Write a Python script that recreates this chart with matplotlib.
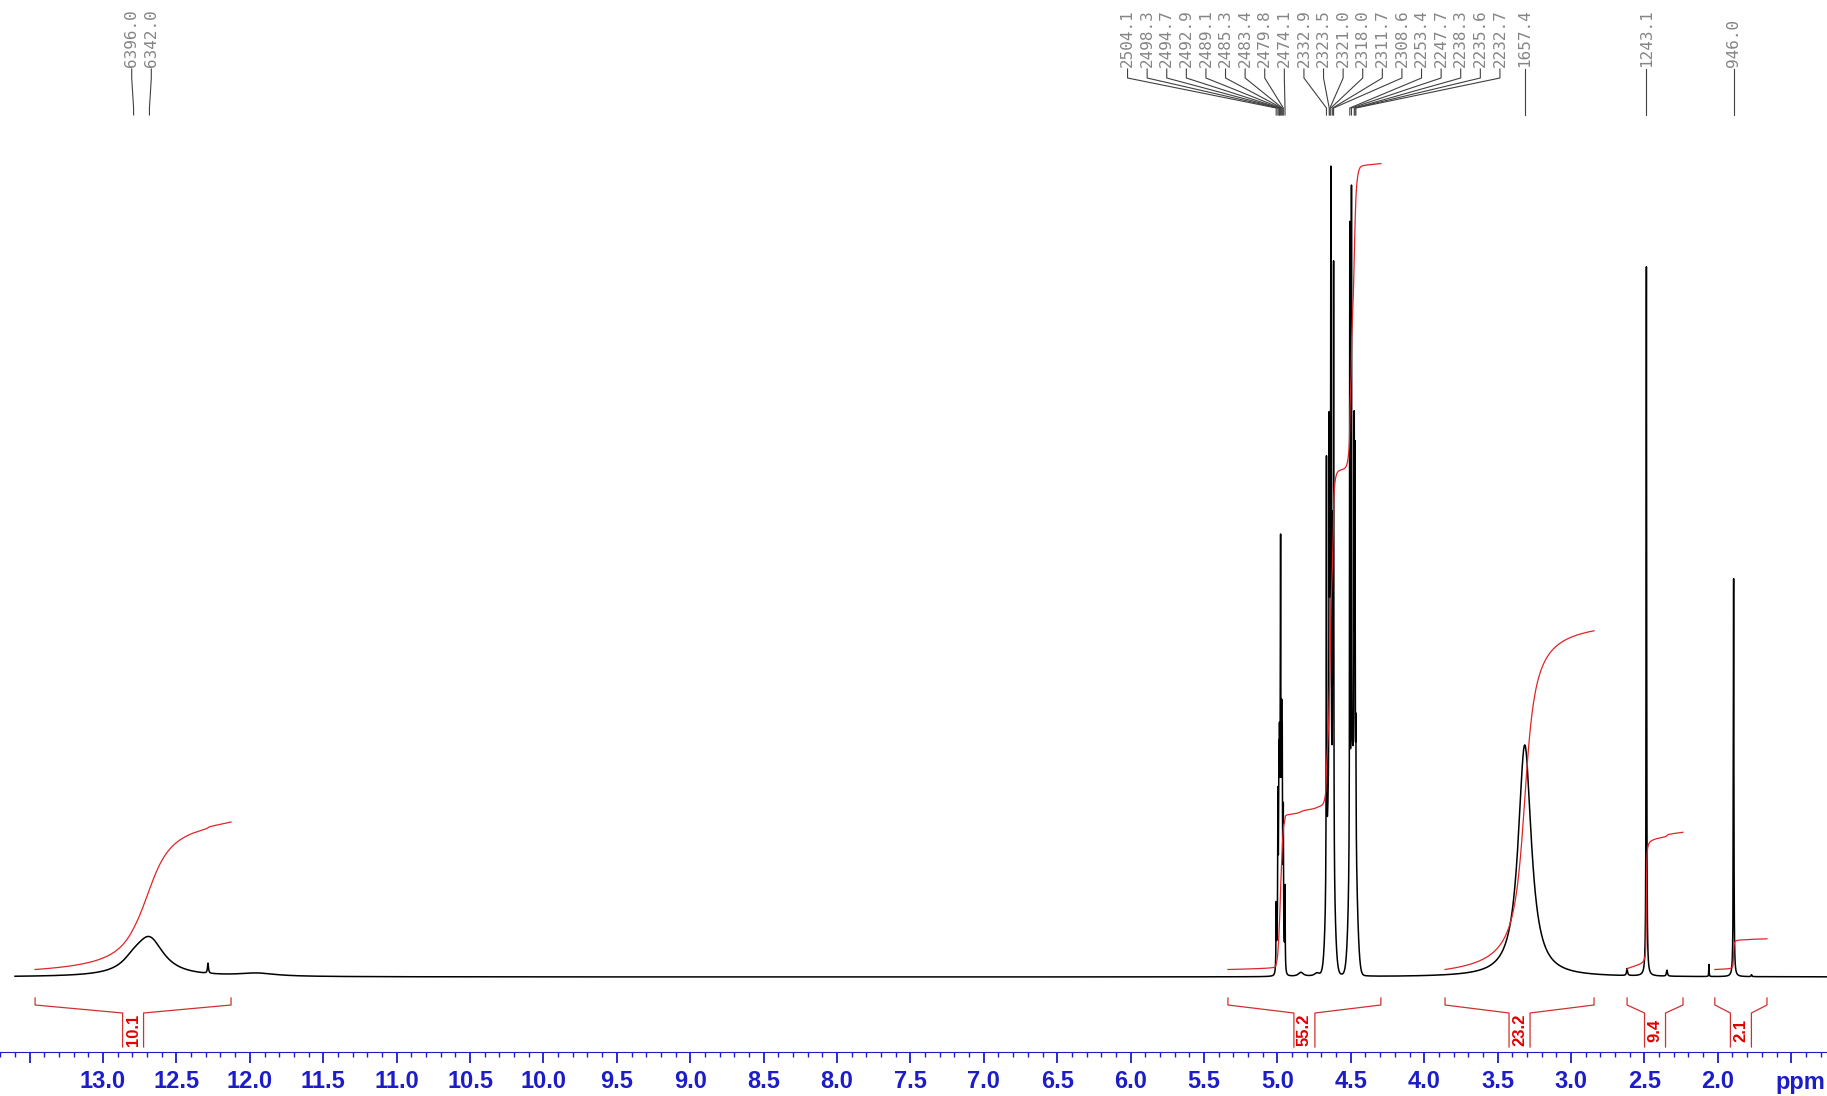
import numpy as np
import matplotlib
matplotlib.use('Agg')
import matplotlib.pyplot as plt
from matplotlib.ticker import MultipleLocator

SF = 500.0  # spectrometer frequency (MHz), peak labels are in Hz

# picked peaks shown on top (Hz)
label_hz = [6396.0, 6342.0,
            2504.1, 2498.3, 2494.7, 2492.9, 2489.1, 2485.3, 2483.4, 2479.8, 2474.1,
            2332.9, 2323.5, 2321.0, 2318.0, 2311.7, 2308.6,
            2253.4, 2247.7, 2238.3, 2235.6, 2232.7,
            1657.4, 1243.1, 946.0]

# lorentzian lines: position (Hz), height (px above baseline), fwhm (Hz)
line_hz = [6396.0, 6342.0, 6142.5, 5975.0,
           2504.1, 2498.3, 2494.7, 2492.9, 2489.1, 2485.3, 2483.4, 2479.8, 2474.1,
           2420.0, 2365.0,
           2332.9, 2323.5, 2321.0, 2318.0, 2311.7, 2308.6,
           2253.4, 2247.7, 2238.3, 2235.6, 2232.7,
           1657.4, 1309.0, 1243.1, 1173.0, 1030.0, 946.0, 885.0]
line_h = [8, 37, 10, 3,
          60, 123, 102, 94, 280, 124, 131, 116, 80,
          4, 3,
          425, 338, 270, 585, 279, 587,
          630, 601, 351, 344, 107,
          232, 7, 711, 6, 12, 398, 2]
line_w = [90, 120, 4, 150,
          1.5, 1.5, 1.5, 1.5, 1.5, 1.5, 1.5, 1.5, 1.5,
          20, 20,
          1.5, 1.5, 1.5, 1.5, 1.5, 1.5,
          1.5, 1.5, 1.5, 1.5, 1.5,
          54, 4, 2, 4, 1.5, 2, 3]

# unresolved multiplet envelopes (gaussian)
env_hz = [2489.5, 2320.0, 2242.5]
env_h = [150, 200, 200]
env_w = [15, 24, 24]

# integrals: range (ppm) and value
int_left = [13.463, 5.337, 3.858, 2.618, 2.02]
int_right = [12.128, 4.295, 2.843, 2.237, 1.665]
int_val = [10.1, 55.2, 23.2, 9.4, 2.1]

xl = (13.702, 1.256)
PXPPM = 146.8
BASE = 977  # baseline, px from top
H, W = 1096, 1827
blue = '#1c1cc8'
red = '#e02428'

plt.rcParams['font.family'] = 'Liberation Sans'

ppm = np.arange(1.256, 13.60, 0.0003)
spec = np.zeros_like(ppm)
for p, h, w in zip(line_hz, line_h, line_w):
    d = (ppm - p / SF) * SF
    spec += h / (1 + (2 * d / w) ** 2)
for p, h, w in zip(env_hz, env_h, env_w):
    d = (ppm - p / SF) * SF
    spec += h * np.exp(-4 * np.log(2) * (d / w) ** 2)

fig = plt.figure(figsize=(W / 100, H / 100), dpi=100)
ax = fig.add_axes([0, 0, 1, 1])
ax.set_xlim(xl)
ax.set_ylim(BASE - H, BASE)
ax.axis('off')

def yp(px):
    return BASE - px

ax.plot(ppm, spec, color='black', lw=1.1)

# integrals and brackets
for a, b, v in zip(int_left, int_right, int_val):
    m = (ppm <= a) & (ppm >= b)
    seg = spec[m]
    c = np.cumsum(seg[::-1])[::-1]
    c = c / c.max()
    ax.plot(ppm[m], 7.5 + c * v * 14.6, color=red, lw=0.9)
    mid = (a + b) / 2
    g = 10.5 / PXPPM
    bx = [a, a, mid + g, mid + g]
    by = [yp(998), yp(1005), yp(1013), yp(1047)]
    ax.plot(bx, by, color='#d03030', lw=0.9)
    ax.plot([b, b, mid - g, mid - g], by, color='#d03030', lw=0.9)
    ax.text(mid, yp(1030), '%.1f' % v, rotation=90, ha='center', va='center',
            fontsize=12, fontweight='bold', color='#e00000')

# peak labels, spread out so they don't overlap
gap = 19.6 / PXPPM
u = sorted(-h / SF for h in label_hz)
groups = [[x] for x in u]
changed = True
while changed:
    changed = False
    out = []
    for grp in groups:
        if out:
            prev = out[-1]
            pr = np.mean(prev) + (len(prev) - 1) * gap / 2
            gl = np.mean(grp) - (len(grp) - 1) * gap / 2
            if gl - pr < gap:
                out[-1] = prev + grp
                changed = True
                continue
        out.append(grp)
    groups = out

for grp in groups:
    cx = np.mean(grp)
    n = len(grp)
    for i, x in enumerate(grp):
        lx = -(cx + (i - (n - 1) / 2) * gap)
        px = -x
        ax.plot([lx, lx, px, px], [yp(69), yp(78), yp(108), yp(115)],
                color='#404040', lw=0.8)
        ax.text(lx, yp(67), '%.1f' % (px * SF), rotation=90, ha='center',
                va='bottom', fontsize=11.5, family='DejaVu Sans Mono',
                color='#858585')

# ppm scale
axs = fig.add_axes([0, 44 / H, 1, 0.001])
axs.set_xlim(xl)
axs.set_facecolor('none')
for s in ['top', 'left', 'right']:
    axs.spines[s].set_visible(False)
axs.spines['bottom'].set_color(blue)
axs.set_yticks([])
ticks = np.arange(1.5, 13.51, 0.5)
axs.set_xticks(ticks)
axs.set_xticklabels(['' if t in (1.5, 13.5) else '%.1f' % t for t in ticks])
axs.xaxis.set_minor_locator(MultipleLocator(0.1))
axs.tick_params(which='major', length=8, width=1.3, color=blue, labelsize=17,
                labelcolor=blue, pad=5)
axs.tick_params(which='minor', length=3.5, width=1, color=blue)
for lbl in axs.get_xticklabels():
    lbl.set_fontweight('bold')
ax.text(1.44, yp(1071), 'ppm', ha='center', va='top', fontsize=17,
        fontweight='bold', color=blue)

fig.savefig('out.png', dpi=100)
